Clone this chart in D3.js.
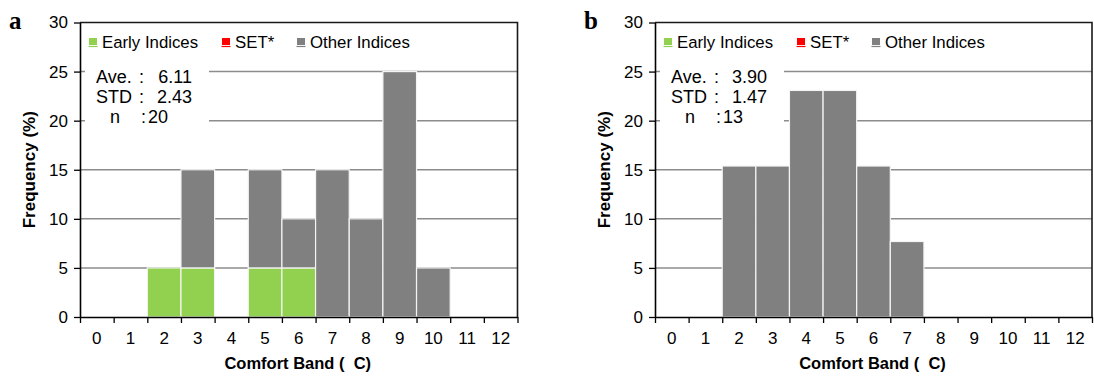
<!DOCTYPE html>
<html>
<head>
<meta charset="utf-8">
<script src="https://cdn.jsdelivr.net/npm/d3@7"></script>
<style>
  html, body { margin: 0; padding: 0; background: #fff; }
  svg { display: block; }
  text { font-family: "Liberation Sans", Arial, sans-serif; }
</style>
</head>
<body>
<svg id="chart" width="1094" height="376"></svg>
<script>
// ---- data ----
const categories = ["0","1","2","3","4","5","6","7","8","9","10","11","12"];
const yTicks = [0, 5, 10, 15, 20, 25, 30];
const legendLabels = ["Early Indices", "SET*", "Other Indices"];
const legendColors = ["#92d050", "#ff0000", "#808080"];

const earlyA = [0, 0, 5, 5, 0, 5, 5, 0, 0, 0, 0, 0, 0];
const setA   = [0, 0, 0, 0, 0, 0, 0, 0, 0, 0, 0, 0, 0];
const otherA = [0, 0, 0, 10, 0, 10, 5, 15, 10, 25, 5, 0, 0];

const earlyB = [0, 0, 0, 0, 0, 0, 0, 0, 0, 0, 0, 0, 0];
const setB   = [0, 0, 0, 0, 0, 0, 0, 0, 0, 0, 0, 0, 0];
const otherB = [0, 0, 15.38, 15.38, 23.08, 23.08, 15.38, 7.69, 0, 0, 0, 0, 0];

const statsA = { ave: "6.11", std: "2.43", n: "20" };
const statsB = { ave: "3.90", std: "1.47", n: "13" };

const yTitle = "Frequency (%)";
const xTitle = "Comfort Band (  C)";

// ---- drawing ----
const svg = d3.select("#chart");

function drawPanel(letter, left, right, early, setv, other, stats) {
  const top = 22.5, bottom = 317;
  const g = svg.append("g");
  const x = d3.scaleBand().domain(categories).range([left, right]).paddingInner(0).paddingOuter(0);
  const xLin = d3.scaleLinear().domain([0, categories.length]).range([left, right]);
  const y = d3.scaleLinear().domain([0, 30]).range([bottom, top]);

  // gridlines
  g.append("g").selectAll("line").data(yTicks.filter(t => t > 0 && t < 30)).join("line")
    .attr("x1", left).attr("x2", right)
    .attr("y1", d => y(d)).attr("y2", d => y(d))
    .attr("stroke", "#8c8c8c").attr("stroke-width", 1.5);

  // stats box background (breaks gridlines)
  g.append("rect").attr("x", left + 5).attr("y", y(27)).attr("width", 124).attr("height", y(18.5) - y(27))
    .attr("fill", "#fff");

  // stacked bars
  const rows = categories.map((c, i) => ({ cat: c, early: early[i], set: setv[i], other: other[i] }));
  const stack = d3.stack().keys(["early", "set", "other"])(rows);
  g.append("g").selectAll("g").data(stack).join("g")
    .attr("fill", (d, i) => legendColors[i])
    .selectAll("rect").data(d => d.filter(v => v[1] - v[0] > 0)).join("rect")
    .attr("x", d => x(d.data.cat))
    .attr("width", x.bandwidth())
    .attr("y", d => y(d[1]))
    .attr("height", d => y(d[0]) - y(d[1]))
    .attr("stroke", "#f4f4f4").attr("stroke-width", 1.2);

  // top and right border
  g.append("path")
    .attr("d", `M${left},${top}H${right}V${bottom}`)
    .attr("fill", "none").attr("stroke", "#1a1a1a").attr("stroke-width", 1.6);

  // y axis
  const yAxis = g.append("g").attr("transform", `translate(${left},0)`)
    .call(d3.axisLeft(y).tickValues(yTicks).tickSize(6).tickPadding(6).tickSizeOuter(0));
  yAxis.select(".domain").attr("stroke", "#000").attr("stroke-width", 1.6);
  yAxis.selectAll(".tick line").attr("stroke", "#000").attr("stroke-width", 1.3);
  yAxis.selectAll(".tick text").attr("font-size", 17).attr("fill", "#000")
    .style("font-family", "'Liberation Sans', Arial, sans-serif");

  // x axis: ticks at category boundaries
  const xTickAxis = g.append("g").attr("transform", `translate(0,${bottom})`)
    .call(d3.axisBottom(xLin).tickValues(d3.range(0, categories.length + 1)).tickSize(6).tickFormat("").tickSizeOuter(0));
  xTickAxis.select(".domain").attr("stroke", "#000").attr("stroke-width", 1.6);
  xTickAxis.selectAll(".tick line").attr("stroke", "#000").attr("stroke-width", 1.3);

  // x axis: labels at category centres
  const xLabAxis = g.append("g").attr("transform", `translate(0,${bottom})`)
    .call(d3.axisBottom(x).tickSize(0).tickPadding(15));
  xLabAxis.select(".domain").remove();
  xLabAxis.selectAll(".tick text").attr("font-size", 17).attr("fill", "#000")
    .style("font-family", "'Liberation Sans', Arial, sans-serif");

  // axis titles
  g.append("text").attr("x", (left + right) / 2 - 1).attr("y", 369)
    .attr("text-anchor", "middle").attr("font-size", 16.5).attr("font-weight", "bold")
    .style("white-space", "pre").text(xTitle);
  g.append("text").attr("transform", `translate(${left - 45},${(top + bottom) / 2}) rotate(-90)`)
    .attr("text-anchor", "middle").attr("font-size", 17).attr("font-weight", "bold")
    .text(yTitle);

  // panel letter
  g.append("text").attr("x", left - 71).attr("y", 29)
    .attr("font-size", 25).attr("font-weight", "bold")
    .style("font-family", "'Liberation Serif', 'Times New Roman', serif")
    .text(letter);

  // legend
  const legendX = [9, 142, 217];
  const lg = g.append("g");
  legendLabels.forEach((lab, i) => {
    const lx = left + legendX[i];
    lg.append("rect").attr("x", lx).attr("y", 38).attr("width", 8).attr("height", 7).attr("fill", legendColors[i]);
    lg.append("line").attr("x1", lx - 0.5).attr("x2", lx + 8.5).attr("y1", 46.5).attr("y2", 46.5)
      .attr("stroke", legendColors[i]).attr("stroke-width", 1.2);
    lg.append("text").attr("x", lx + 13).attr("y", 48).attr("font-size", 16.8).attr("fill", "#000").text(lab);
  });

  // stats text
  const st = g.append("g").attr("font-size", 18).attr("fill", "#000");
  st.append("text").attr("x", left + 16).attr("y", 83).text("Ave.");
  st.append("text").attr("x", left + 59).attr("y", 83).text(":");
  st.append("text").attr("x", left + 112).attr("y", 83).attr("text-anchor", "end").text(stats.ave);
  st.append("text").attr("x", left + 16).attr("y", 103).text("STD");
  st.append("text").attr("x", left + 59).attr("y", 103).text(":");
  st.append("text").attr("x", left + 112).attr("y", 103).attr("text-anchor", "end").text(stats.std);
  st.append("text").attr("x", left + 30).attr("y", 123).text("n");
  st.append("text").attr("x", left + 61).attr("y", 123).text(":");
  st.append("text").attr("x", left + 68).attr("y", 123).text(stats.n);
}

drawPanel("a", 80, 517.5, earlyA, setA, otherA, statsA);
drawPanel("b", 655, 1092, earlyB, setB, otherB, statsB);
</script>
</body>
</html>
